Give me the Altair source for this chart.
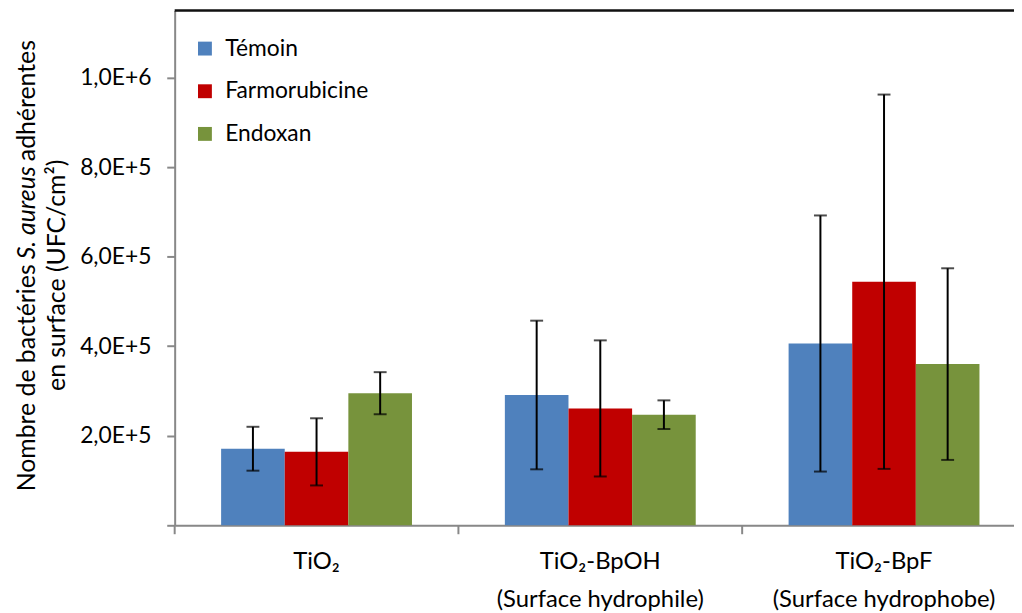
import altair as alt
import pandas as pd

categories = ["TiO₂", "TiO₂-BpOH\n(Surface hydrophile)", "TiO₂-BpF\n(Surface hydrophobe)"]
series = ["Témoin", "Farmorubicine", "Endoxan"]
temoin = [171000, 291000, 406000]
farmorubicine = [164000, 261000, 544000]
endoxan = [295000, 247000, 360000]
err_temoin = [49000, 166000, 286000]
err_farmorubicine = [75000, 152000, 418000]
err_endoxan = [47000, 32000, 214000]
colors = ["#4F81BD", "#C00000", "#77933C"]
y_ticks = [0, 200000, 400000, 600000, 800000, 1000000]

FONT = "Lato"
FS = 23

rows = []
for s, vals, errs in [("Témoin", temoin, err_temoin),
                      ("Farmorubicine", farmorubicine, err_farmorubicine),
                      ("Endoxan", endoxan, err_endoxan)]:
    for c, v, e in zip(categories, vals, errs):
        rows.append({"cat": c, "series": s, "value": v, "lo": v - e, "hi": v + e})
df = pd.DataFrame(rows)
df_cat = pd.DataFrame({"cat": categories})
one = pd.DataFrame({"a": [0]})

W, H = 846, 519

xenc = alt.X("cat:N", sort=categories,
             scale=alt.Scale(domain=categories, range=[0, 858], paddingInner=0, paddingOuter=0),
             axis=alt.Axis(title=None, labelExpr="split(datum.label, '\\n')", labelAngle=0,
                           ticks=False, domainColor="#888888", domainWidth=2,
                           labelFont=FONT, labelFontSize=24, labelColor="#000000", labelLimit=0,
                           labelBaseline="top", labelPadding=25, labelLineHeight=38))
xoff = alt.XOffset("series:N", sort=series,
                   scale=alt.Scale(domain=series, paddingInner=0, paddingOuter=0.73))
label_expr = ("datum.value == 0 ? '' : replace(format(datum.value / pow(10, floor(log(datum.value)/LN10 + 1e-9)), '.1f'), '.', ',')"
              " + 'E+' + floor(log(datum.value)/LN10 + 1e-9)")
yenc = alt.Y("value:Q", scale=alt.Scale(domain=[0, 1150000], nice=False, zero=True),
             axis=alt.Axis(title=None, values=y_ticks, labelExpr=label_expr, grid=False,
                           tickSize=8, tickColor="#888888", tickWidth=2,
                           domainColor="#888888", domainWidth=2,
                           labelFont=FONT, labelFontSize=FS, labelColor="#000000", labelPadding=16))

bars = alt.Chart(df).mark_bar().encode(
    x=xenc, xOffset=xoff, y=yenc,
    color=alt.Color("series:N", sort=series,
                    scale=alt.Scale(domain=series, range=colors),
                    legend=alt.Legend(title=None, orient="none", legendX=19, legendY=27,
                                      symbolType="square", symbolSize=196, symbolStrokeWidth=0,
                                      labelFont=FONT, labelFontSize=FS, labelColor="#000000",
                                      rowPadding=19, labelOffset=9, padding=0)),
)

err = alt.Chart(df).mark_rule(color="black", strokeWidth=2).encode(
    x=alt.X("cat:N", sort=categories), xOffset=alt.XOffset("series:N", sort=series),
    y=alt.Y("lo:Q"), y2="hi:Q")
cap_hi = alt.Chart(df).mark_tick(color="black", thickness=2, size=13, orient="horizontal").encode(
    x=alt.X("cat:N", sort=categories), xOffset=alt.XOffset("series:N", sort=series),
    y=alt.Y("hi:Q"))
cap_lo = alt.Chart(df).mark_tick(color="black", thickness=2, size=13, orient="horizontal").encode(
    x=alt.X("cat:N", sort=categories), xOffset=alt.XOffset("series:N", sort=series),
    y=alt.Y("lo:Q"))

xticks = alt.Chart(df_cat).mark_rule(color="#888888", strokeWidth=2).encode(
    x=alt.X("cat:N", sort=categories, bandPosition=0),
    y=alt.value(H), y2=alt.value(H + 9))

top_rule = alt.Chart(one).mark_rule(color="#111111", strokeWidth=2.5).encode(
    x=alt.value(0), x2=alt.value(W), y=alt.value(0))

TFS = 25

def ytxt(text, y, x, align, style="normal"):
    return alt.Chart(one).mark_text(angle=270, font=FONT, fontSize=TFS, align=align,
                                    baseline="middle", fontStyle=style, color="#000000").encode(
        x=alt.value(x), y=alt.value(y), text=alt.value(text))

t1 = ytxt("Nombre de bactéries", 256, -149, "right")
t2 = ytxt("S. aureus", 204, -149, "center", "italic")
t3 = ytxt("adhérentes", 152, -149, "left")
t4 = ytxt("en surface (UFC/cm²)", 267, -119, "center")

chart = alt.layer(bars, err, cap_hi, cap_lo, xticks, top_rule, t1, t2, t3, t4).properties(
    width=W, height=H,
    autosize=alt.AutoSizeParams(type="none"),
    padding={"left": 168, "top": 0, "right": 0, "bottom": 86},
).configure_view(stroke=None).configure(font=FONT)

chart.save("out.html", embed_options={"renderer": "svg", "actions": False})
